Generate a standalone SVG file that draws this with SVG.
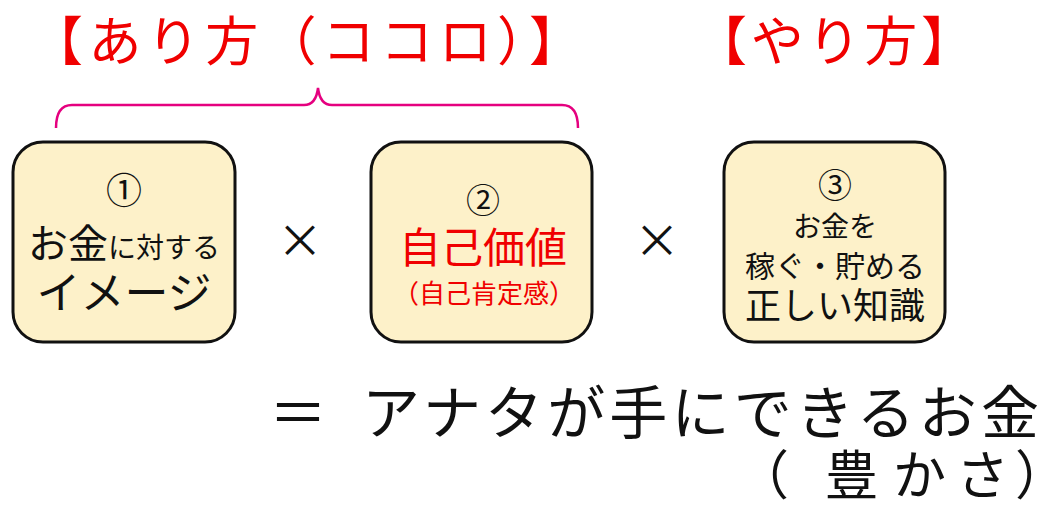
<svg xmlns="http://www.w3.org/2000/svg" width="1045" height="510" viewBox="0 0 1045 510">
<style>
text{font-family:"Noto Sans CJK JP","Noto Sans",sans-serif;}
.box{fill:#FDF1C9;stroke:#111;stroke-width:3;}
.red{fill:#F00000;}
.blk{fill:#111;}
.mid{text-anchor:middle;}
</style>
<rect width="1045" height="510" fill="#fff"/>
<g id="title-arikata"><text class="red" x="30" y="61" font-size="53" textLength="552" lengthAdjust="spacing">【あり方（ココロ）】</text></g>
<g id="title-yarikata"><text class="red" x="694" y="61" font-size="53" textLength="280" lengthAdjust="spacing">【やり方】</text></g>
<g id="connectors">
<path d="M56,128 Q56,105 72,105 L304,105 Q316,105 318,88 Q320,105 332,105 L562,105 Q578,105 578,128" fill="none" stroke="#E5007F" stroke-width="2.5"/>
</g>
<g id="node1">
<rect class="box" x="13" y="142" width="222" height="200" rx="30"/>
<text class="blk mid" x="124" y="204" font-size="36">①</text>
<text class="blk mid" x="124" y="258"><tspan font-size="40">お金</tspan><tspan font-size="28">に対する</tspan></text>
<text class="blk mid" x="124" y="309" font-size="44">イメージ</text>
</g>
<g id="op1"><text class="blk mid" x="300" y="257" font-size="46">×</text></g>
<g id="node2">
<rect class="box" x="371" y="142" width="221" height="200" rx="30"/>
<text class="blk mid" x="483" y="213" font-size="34">②</text>
<text class="red mid" x="483" y="263" font-size="42">自己価値</text>
<text class="red mid" x="484" y="303" font-size="26">（自己肯定感）</text>
</g>
<g id="op2"><text class="blk mid" x="657" y="257" font-size="46">×</text></g>
<g id="node3">
<rect class="box" x="724" y="142" width="221" height="200" rx="30"/>
<text class="blk mid" x="835" y="198" font-size="34">③</text>
<text class="blk mid" x="835" y="237" font-size="28">お金を</text>
<text class="blk mid" x="835" y="277" font-size="30">稼ぐ・貯める</text>
<text class="blk mid" x="835" y="319" font-size="36">正しい知識</text>
</g>
<g id="result">
<text class="blk" x="269" y="434" font-size="58">＝</text>
<text class="blk" x="362" y="434" font-size="58" textLength="677" lengthAdjust="spacing">アナタが手にできるお金</text>
<text class="blk" x="736 825 893 956 1015" y="495" font-size="53">（豊かさ）</text>
</g>
</svg>
